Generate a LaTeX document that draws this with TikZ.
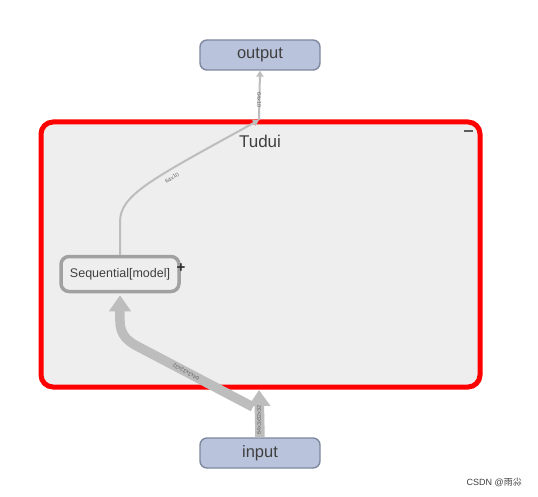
\documentclass[tikz,border=0pt]{standalone}
\usepackage{fontspec}
\setmainfont{Liberation Sans}
\newfontfamily\cjk{Noto Sans CJK SC}
\usetikzlibrary{arrows.meta}
\definecolor{iofill}{HTML}{B9C3DC}
\definecolor{iodraw}{HTML}{7E889E}
\definecolor{boxfill}{HTML}{EEEEEE}
\definecolor{edgecol}{HTML}{BDBDBD}
\definecolor{txt}{HTML}{404040}
\tikzset{
  iobox/.style={draw=iodraw, fill=iofill, line width=1.4pt, rounded corners=7pt,
    minimum width=120pt, minimum height=30pt, inner sep=0pt, text=txt, font=\fontsize{16.5}{18}\selectfont},
  seqbox/.style={draw=edgecol!85!black, fill=boxfill, line width=3.5pt, rounded corners=8pt,
    minimum width=118pt, minimum height=35pt, inner sep=0pt, text=txt, font=\fontsize{12.5}{14}\selectfont},
  thinedge/.style={draw=edgecol, line width=2pt, -{Triangle[width=7pt,length=6pt]}},
  thickedge/.style={draw=edgecol, line width=9.5pt, -{Triangle[width=21pt,length=16pt]}},
  elabel/.style={font=\fontsize{5.5}{6}\selectfont, text=txt!80, inner sep=0.5pt}
}
\begin{document}
\begin{tikzpicture}[x=1pt,y=-1pt]
\useasboundingbox (0,0) rectangle (538,497);
\fill[white] (0,0) rectangle (538,497);
% Tudui group
\draw[red, line width=5pt, fill=boxfill, rounded corners=12pt] (41,122) rectangle (480,387);
\node[text=txt, font=\fontsize{17}{19}\selectfont] (tudui) at (260,141) {Tudui};
\node[fill=txt!85, minimum width=9pt, minimum height=2.2pt, inner sep=0pt] (minus) at (468,131) {};
% nodes
\node[iobox] (output) at (260,55) {output};
\node[iobox] (input) at (260,453) {input};
\node[seqbox] (seq) at (120,274) {Sequential[model]};
\node[text=txt!70!black, font=\fontsize{15}{15}\selectfont\bfseries, inner sep=0pt] (plus) at (181,268) {+};
\coordinate (tin) at (259,120);
\coordinate (bin) at (259,390);
\coordinate (bout) at (253,407);
% edges
\draw[thinedge] (tin) -- (output.south);
\draw[thinedge] (seq.north) -- (120,222) .. controls (120,195) and (150,180) .. (tin);
\draw[thickedge] (input.north) -- (bin);
\draw[thickedge] (bout) -- (135,345) .. controls (118,335) and (120,325) .. ([yshift=-2pt]seq.south);
% labels
\node[elabel, rotate=-90] (l1) at (259,100) {64x10};
\node[elabel, rotate=33] (l2) at (172,178) {64x10};
\node[elabel, rotate=90] (l3) at (259,420) {64x3x32x32};
\node[elabel, rotate=150] (l4) at (186,372) {64x3x32x32};
% watermark
\node[anchor=east, text=black!75, font=\fontsize{9}{10}\selectfont, inner sep=0pt] (wm) at (522,482) {CSDN @{\cjk 雨尛}};
\end{tikzpicture}
\end{document}
